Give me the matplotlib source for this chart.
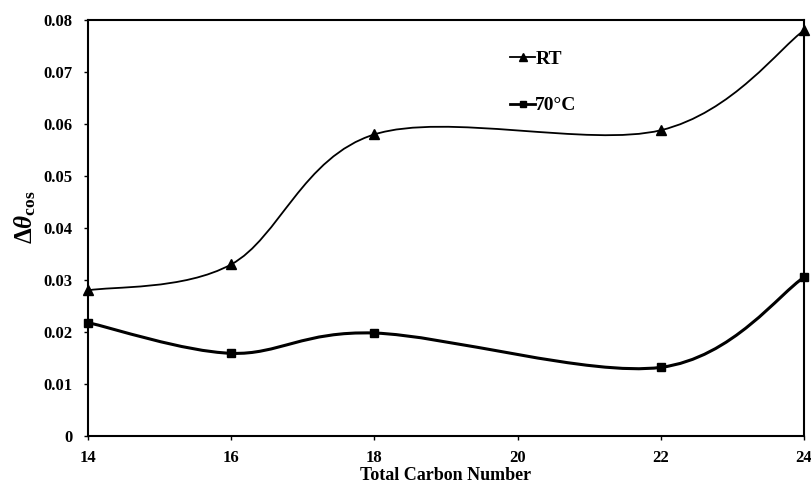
import matplotlib
matplotlib.use("Agg")
import matplotlib.pyplot as plt
from matplotlib.path import Path
from matplotlib.patches import PathPatch
from matplotlib.lines import Line2D

carbon = [14, 16, 18, 22, 24]
rt = [0.0280, 0.0330, 0.0580, 0.0588, 0.0780]
t70 = [0.0218, 0.0159, 0.0198, 0.0132, 0.0305]
xticks = [14, 16, 18, 20, 22, 24]
yticks = [0, 0.01, 0.02, 0.03, 0.04, 0.05, 0.06, 0.07, 0.08]
ytick_labels = ["0", "0.01", "0.02", "0.03", "0.04", "0.05", "0.06", "0.07", "0.08"]

plt.rcParams['font.family'] = ['Liberation Serif', 'DejaVu Serif']
plt.rcParams['font.weight'] = 'bold'
plt.rcParams['mathtext.fontset'] = 'custom'
plt.rcParams['mathtext.rm'] = 'Liberation Serif:bold'
plt.rcParams['mathtext.it'] = 'Liberation Serif:bold:italic'
plt.rcParams['mathtext.bf'] = 'Liberation Serif:bold'

fig = plt.figure(figsize=(8.12, 4.88), dpi=100)
ax = fig.add_axes([88/812, 52/488, (804-88)/812, (436-20)/488])


def smooth_path(xs, ys):
    pts = list(zip(xs, ys))
    n = len(pts)
    verts = [pts[0]]
    codes = [Path.MOVETO]
    for i in range(n - 1):
        p0 = pts[i - 1] if i > 0 else pts[i]
        p1 = pts[i]
        p2 = pts[i + 1]
        p3 = pts[i + 2] if i + 2 < n else pts[i + 1]
        c1 = (p1[0] + (p2[0] - p0[0]) / 6, p1[1] + (p2[1] - p0[1]) / 6)
        c2 = (p2[0] - (p3[0] - p1[0]) / 6, p2[1] - (p3[1] - p1[1]) / 6)
        verts += [c1, c2, p2]
        codes += [Path.CURVE4] * 3
    return Path(verts, codes)


ax.add_patch(PathPatch(smooth_path(carbon, rt), fill=False, edgecolor='black', lw=1.3, clip_on=False))
ax.add_patch(PathPatch(smooth_path(carbon, t70), fill=False, edgecolor='black', lw=2.2, clip_on=False))
ax.plot(carbon, rt, ls='none', marker='^', color='black', ms=7, clip_on=False, zorder=5)
ax.plot(carbon, t70, ls='none', marker='s', color='black', ms=6, clip_on=False, zorder=5)

ax.set_xlim(14, 24)
ax.set_ylim(0, 0.08)
ax.set_xticks(xticks)
ax.set_xticklabels([str(v) for v in xticks], fontsize=12, fontweight='bold')
ax.set_yticks(yticks)
ax.set_yticklabels(ytick_labels, fontsize=12, fontweight='bold')
ax.tick_params(axis='both', direction='out', length=3, width=1)
ax.tick_params(axis='x', pad=7)
ax.tick_params(axis='y', pad=8)
for s in ax.spines.values():
    s.set_linewidth(1.5)

ax.set_xlabel('Total Carbon Number', fontsize=13, fontweight='bold', labelpad=1)
ax.set_ylabel(r'$\Delta\theta_{\rm cos}$', fontsize=18)
ax.yaxis.set_label_coords(-0.07, 0.525)

handles = [Line2D([], [], color='black', lw=1.3, marker='^', ms=6),
           Line2D([], [], color='black', lw=2.0, marker='s', ms=5)]
leg = ax.legend(handles, ['RT', '70°C'], frameon=False, loc='upper left',
                bbox_to_anchor=(0.565, 0.97), handlelength=1.3, handletextpad=0.0,
                labelspacing=1.5, prop={'size': 14, 'weight': 'bold'})

fig.savefig('out.png', dpi=100)
